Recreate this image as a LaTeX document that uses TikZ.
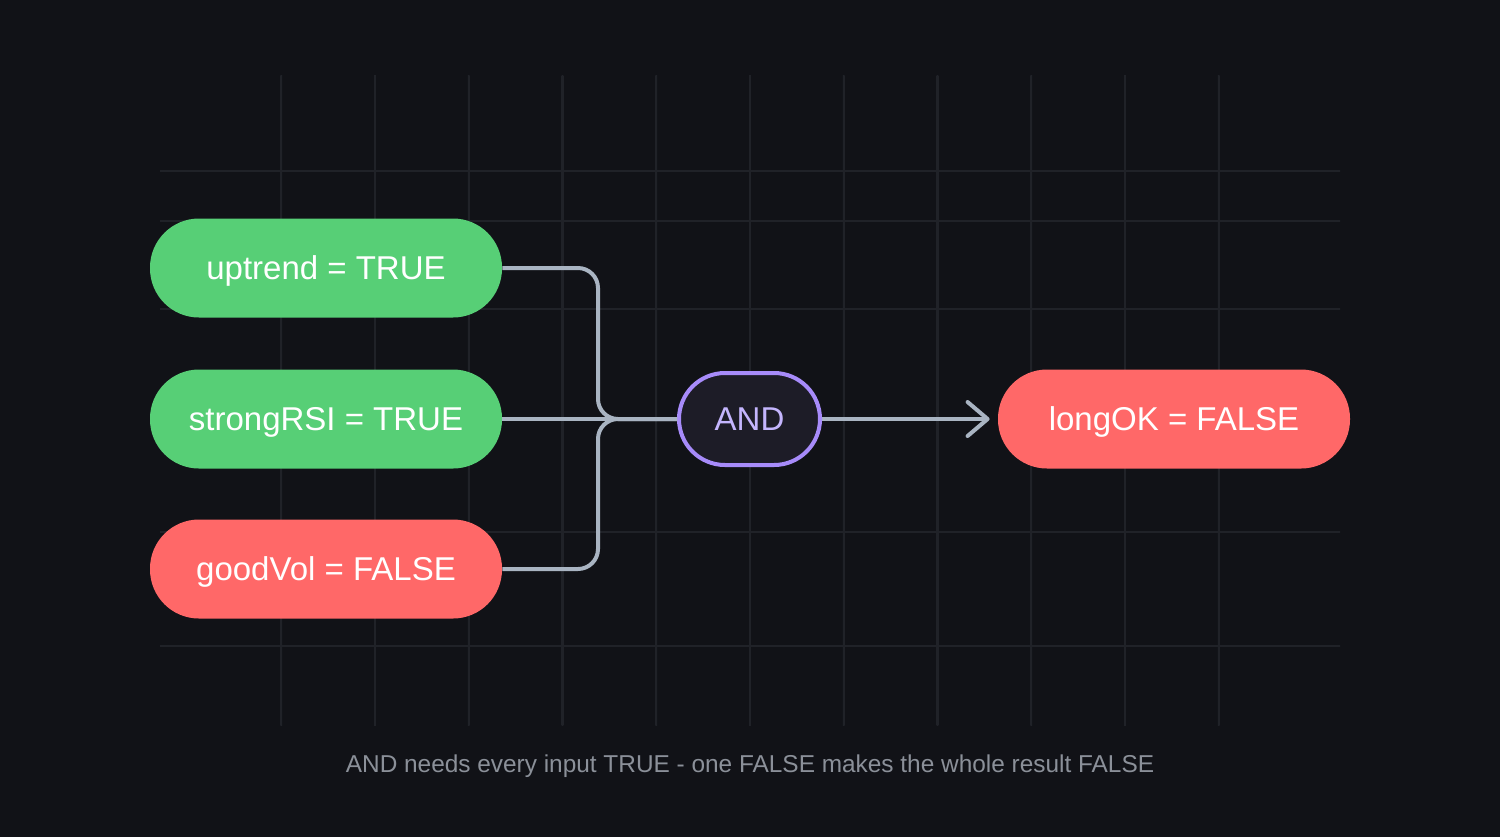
\documentclass[tikz,border=0pt]{standalone}
\usepackage{fontspec}
\setmainfont{Liberation Sans}
\usetikzlibrary{arrows.meta}
\definecolor{bg}{HTML}{111217}
\definecolor{gridc}{HTML}{202228}
\definecolor{okgreen}{HTML}{57CF76}
\definecolor{badred}{HTML}{FF6868}
\definecolor{wirec}{HTML}{A9B4C2}
\definecolor{andborder}{HTML}{A78BFA}
\definecolor{andfill}{HTML}{1D1C27}
\definecolor{andtext}{HTML}{C4B5FD}
\definecolor{captc}{HTML}{8B9099}
\pgfdeclarehorizontalshading{hfade}{100bp}{color(0bp)=(bg); color(14bp)=(gridc); color(86bp)=(gridc); color(100bp)=(bg)}
\pgfdeclareverticalshading{vfade}{100bp}{color(0bp)=(bg); color(14bp)=(gridc); color(86bp)=(gridc); color(100bp)=(bg)}
\begin{document}
\begin{tikzpicture}[x=0.5pt,y=-0.5pt,
  pill/.style={rectangle, rounded corners=24.5pt, minimum width=176pt, minimum height=49.5pt,
    inner sep=0pt, text=white, font=\fontsize{16.5}{19}\selectfont, text height=11.8pt, text depth=0pt},
  truebox/.style={pill, fill=okgreen},
  falsebox/.style={pill, fill=badred},
  gatebox/.style={rectangle, rounded corners=23pt, minimum width=70.5pt, minimum height=46pt,
    inner sep=0pt, draw=andborder, line width=2pt, fill=andfill, text=andtext,
    font=\fontsize{16.5}{19}\selectfont, text height=11.8pt, text depth=0pt},
  wire/.style={draw=wirec, line width=2pt, rounded corners=10pt},
  caption/.style={text=captc, font=\fontsize{12.2}{14}\selectfont}]
\useasboundingbox (0,0) rectangle (1500,837);
\fill[bg] (0,0) rectangle (1500,837);
% grid
\foreach \gx in {281.25,375,468.75,562.5,656.25,750,843.75,937.5,1031.25,1125,1218.75}
  \shade[shading=vfade] (\gx-0.8,75) rectangle (\gx+0.8,725);
\foreach \gy in {171,221,309,532,646}
  \shade[shading=hfade] (160,\gy-0.8) rectangle (1340,\gy+0.8);
% nodes
\node[truebox] (up) at (326,268) {uptrend = TRUE};
\node[truebox] (rsi) at (326,419) {strongRSI = TRUE};
\node[falsebox] (vol) at (326,569) {goodVol = FALSE};
\node[gatebox] (gate) at (749.5,419) {AND};
\node[falsebox] (out) at (1174,419) {longOK = FALSE};
\coordinate (jn) at (598,419);
% connectors
\draw[wire] (up.east) -| (jn) -- (gate.west);
\draw[wire] (vol.east) -| (jn) -- (gate.west);
\draw[wire] (rsi.east) -- (gate.west);
\draw[wire, -{Straight Barb[round, length=10pt, width=17pt]}, shorten >=4pt] (gate.east) -- (out.west);
% caption
\node[caption] (cap) at (750,766) {AND needs every input TRUE - one FALSE makes the whole result FALSE};
\end{tikzpicture}
\end{document}
